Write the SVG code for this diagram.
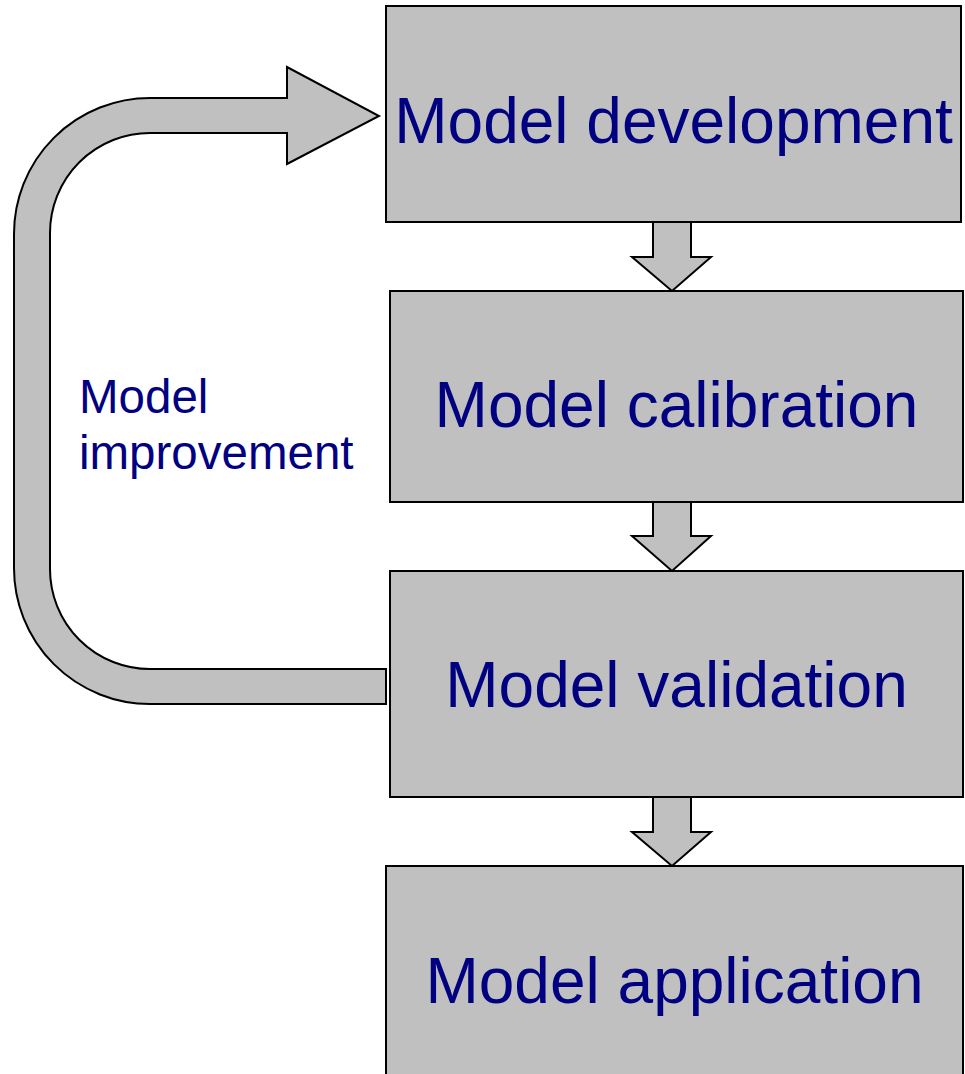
<svg xmlns="http://www.w3.org/2000/svg" width="965" height="1074" viewBox="0 0 965 1074">
<style>
.box{fill:#c0c0c0;stroke:#000;stroke-width:2}
.arr{fill:#c0c0c0;stroke:#000;stroke-width:2;stroke-linejoin:miter}
.big{font-family:"Liberation Sans",Arial,sans-serif;font-size:64px;fill:#000080;text-anchor:middle}
.small{font-family:"Liberation Sans",Arial,sans-serif;font-size:47.5px;fill:#000080}
</style>
<rect width="965" height="1074" fill="#fff"/>
<g id="node-development">
<rect class="box" x="386" y="6" width="575" height="216"/>
<text class="big" x="673.5" y="142.7">Model development</text>
</g>
<g id="node-calibration">
<rect class="box" x="390" y="291" width="573" height="211"/>
<text class="big" x="676.5" y="426.7">Model calibration</text>
</g>
<g id="node-validation">
<rect class="box" x="390" y="571" width="573" height="226"/>
<text class="big" x="676.5" y="706.7">Model validation</text>
</g>
<g id="node-application">
<rect class="box" x="386" y="866" width="577" height="220"/>
<text class="big" x="674.5" y="1002.7">Model application</text>
</g>
<g id="connectors">
<path class="arr" d="M653,222 L691,222 L691,257 L711,257 L672,291 L632,257 L653,257 Z"/>
<path class="arr" d="M653,502 L691,502 L691,536 L711,536 L672,571 L632,536 L653,536 Z"/>
<path class="arr" d="M653,797 L691,797 L691,832 L711,832 L672,866 L632,832 L653,832 Z"/>
<path class="arr" d="M386,704 L150,704 A136,136 0 0 1 14,568 L14,234 A136,136 0 0 1 150,98 L287,98 L287,67 L379,116 L287,164 L287,133 L150,133 A100,100 0 0 0 50,233 L50,569 A100,100 0 0 0 150,669 L386,669 Z"/>
</g>
<g id="label-improvement">
<text class="small" x="79" y="413.3">Model</text>
<text class="small" x="79" y="469.3">improvement</text>
</g>
</svg>
